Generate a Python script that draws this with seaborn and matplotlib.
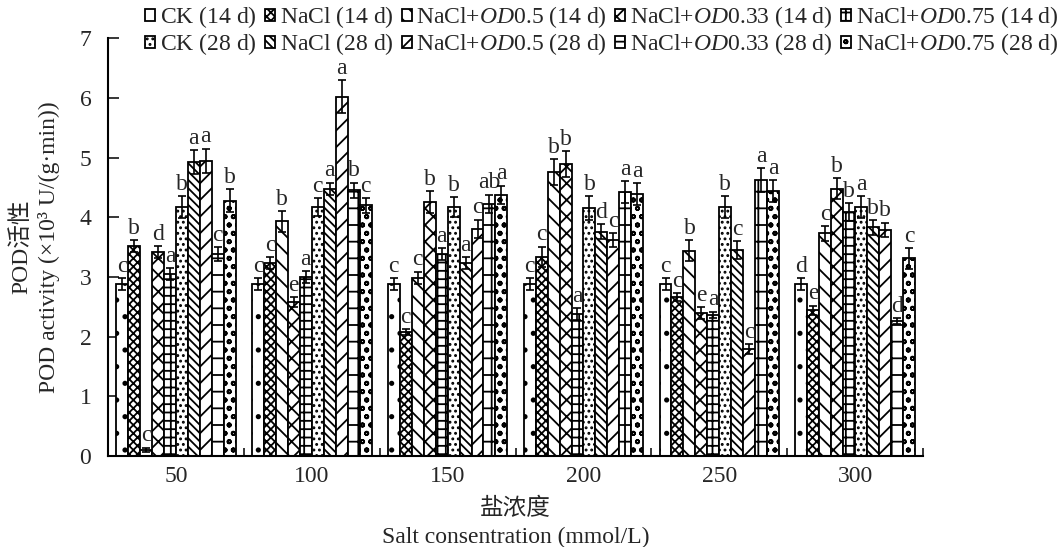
import numpy as np
import pandas as pd
import matplotlib
matplotlib.use("Agg")
import matplotlib.pyplot as plt
import seaborn as sns

# Salt concentrations (mmol/L) on the x axis
salt = ["50", "100", "150", "200", "250", "300"]

# Series names (14 d and 28 d sampling); all parsed as mathtext so the
# legend rows share one baseline
labels = [
    "$\\mathregular{CK}$ (14 d)", "$\\mathregular{NaCl}$ (14 d)",
    "NaCl+$\\mathit{OD}$0.5 (14 d)", "NaCl+$\\mathit{OD}$0.33 (14 d)",
    "NaCl+$\\mathit{OD}$0.75 (14 d)",
    "$\\mathregular{CK}$ (28 d)", "$\\mathregular{NaCl}$ (28 d)",
    "NaCl+$\\mathit{OD}$0.5 (28 d)", "NaCl+$\\mathit{OD}$0.33 (28 d)",
    "NaCl+$\\mathit{OD}$0.75 (28 d)",
]

# POD activity (x10^3 U/(g.min)), one value per salt level
ck_14 = [2.88, 2.88, 2.88, 2.88, 2.88, 2.88]
nacl_14 = [3.52, 3.23, 2.07, 3.34, 2.66, 2.44]
od05_14 = [0.10, 3.93, 2.99, 4.76, 3.44, 3.73]
od033_14 = [3.42, 2.58, 4.26, 4.89, 2.40, 4.48]
od075_14 = [3.05, 3.00, 3.39, 2.38, 2.37, 4.09]
ck_28 = [4.17, 4.17, 4.17, 4.16, 4.17, 4.17]
nacl_28 = [4.92, 4.48, 3.23, 3.76, 3.45, 3.83]
od05_28 = [4.95, 6.02, 3.81, 3.62, 1.79, 3.79]
od033_28 = [3.38, 4.45, 4.23, 4.42, 4.63, 2.26]
od075_28 = [4.28, 4.20, 4.38, 4.39, 4.44, 3.31]

# Standard errors
ck_14_se = [0.10, 0.10, 0.10, 0.10, 0.10, 0.10]
nacl_14_se = [0.10, 0.10, 0.05, 0.17, 0.07, 0.08]
od05_14_se = [0.04, 0.18, 0.10, 0.22, 0.18, 0.12]
od033_14_se = [0.10, 0.08, 0.18, 0.22, 0.10, 0.18]
od075_14_se = [0.10, 0.10, 0.10, 0.10, 0.05, 0.15]
ck_28_se = [0.18, 0.15, 0.17, 0.20, 0.18, 0.18]
nacl_28_se = [0.20, 0.10, 0.10, 0.12, 0.15, 0.12]
od05_28_se = [0.20, 0.28, 0.15, 0.12, 0.08, 0.12]
od033_28_se = [0.12, 0.13, 0.15, 0.18, 0.20, 0.05]
od075_28_se = [0.19, 0.12, 0.15, 0.18, 0.18, 0.17]

# Significance letters
ck_14_sig = ["c", "c", "c", "c", "c", "d"]
nacl_14_sig = ["b", "c", "c", "c", "c", "e"]
od05_14_sig = ["c", "b", "c", "b", "b", "c"]
od033_14_sig = ["d", "e", "b", "b", "e", "b"]
od075_14_sig = ["a", "a", "a", "a", "a", "b"]
ck_28_sig = ["b", "c", "b", "b", "b", "a"]
nacl_28_sig = ["a", "a", "a", "d", "c", "b"]
od05_28_sig = ["a", "a", "c", "c", "c", "b"]
od033_28_sig = ["c", "b", "ab", "a", "a", "d"]
od075_28_sig = ["b", "c", "a", "a", "a", "c"]

values = [ck_14, nacl_14, od05_14, od033_14, od075_14,
          ck_28, nacl_28, od05_28, od033_28, od075_28]
errors = [ck_14_se, nacl_14_se, od05_14_se, od033_14_se, od075_14_se,
          ck_28_se, nacl_28_se, od05_28_se, od033_28_se, od075_28_se]
letters = [ck_14_sig, nacl_14_sig, od05_14_sig, od033_14_sig, od075_14_sig,
           ck_28_sig, nacl_28_sig, od05_28_sig, od033_28_sig, od075_28_sig]

# Fill pattern for each series (black and white print style)
hatches = [".", "xxxx", "\\\\", "xx", "++",
           "...", "\\\\\\\\", "//", "+", "oo"]

sns.set_style("ticks")
plt.rcParams["font.family"] = ["Liberation Serif", "Noto Sans CJK SC"]
plt.rcParams["mathtext.fontset"] = "custom"
plt.rcParams["mathtext.rm"] = "Liberation Serif"
plt.rcParams["mathtext.it"] = "Liberation Serif:italic"
plt.rcParams["hatch.linewidth"] = 1.3
plt.rcParams["hatch.color"] = "black"

df = pd.DataFrame({
    "salt": np.tile(salt, len(labels)),
    "series": np.repeat(labels, len(salt)),
    "value": np.concatenate(values),
})

fig, ax = plt.subplots(figsize=(10.61, 5.47), dpi=100)
fig.subplots_adjust(left=0.1018, right=0.870, bottom=0.1665, top=0.930)

sns.barplot(data=df, x="salt", y="value", hue="series", order=salt,
            hue_order=labels, palette={l: "white" for l in labels},
            saturation=1, edgecolor="black", linewidth=1.3, width=0.88,
            errorbar=None, legend=False, ax=ax)

bar_groups = list(ax.containers)

fs = 17
for i, cont in enumerate(bar_groups):
    xs = []
    for bar in cont.patches:
        bar.set_hatch(hatches[i])
        bar.set_edgecolor("black")
        xs.append(bar.get_x() + bar.get_width() / 2)
    ax.errorbar(xs, values[i], yerr=errors[i], fmt="none", ecolor="black",
                elinewidth=1.2, capsize=3, capthick=1.2, zorder=5)
    for x, v, e, t in zip(xs, values[i], errors[i], letters[i]):
        ax.text(x, v + e + 0.02, t, ha="center", va="bottom", fontsize=fs)

ax.set_xlim(-0.5, 5.5)
ax.set_ylim(0, 7)
ax.set_yticks(range(0, 8))
ax.tick_params(axis="y", direction="in", length=8, width=1.3, labelsize=fs, pad=12)
ax.tick_params(axis="x", which="major", length=0, labelsize=fs, pad=7)
ax.set_xticks(np.arange(-0.5, 6.0, 1.0), minor=True)
ax.tick_params(axis="x", which="minor", direction="in", length=6, width=1.3)
for side in ("top", "right"):
    ax.spines[side].set_visible(False)
for side in ("left", "bottom"):
    ax.spines[side].set_linewidth(1.5)
    ax.spines[side].set_color("black")

ax.set_xlabel("盐浓度\nSalt consentration (mmol/L)", fontsize=fs, labelpad=8,
              linespacing=1.45)
ax.set_ylabel("POD活性\nPOD activity (×10³ U/(g·min))", fontsize=fs,
              labelpad=14, linespacing=1.35)

# Legend laid out in two rows: 14 d on top, 28 d below
order = [0, 5, 1, 6, 2, 7, 3, 8, 4, 9]
fig.legend(handles=[bar_groups[k] for k in order],
           labels=[labels[k] for k in order],
           ncol=5, loc="upper left", bbox_to_anchor=(131 / 1061, 1.018),
           frameon=False, fontsize=fs, handlelength=0.42, handleheight=0.42,
           handletextpad=0.2, columnspacing=0.35, borderpad=0.1,
           labelspacing=0.05)

fig.savefig("out.png", dpi=100)
